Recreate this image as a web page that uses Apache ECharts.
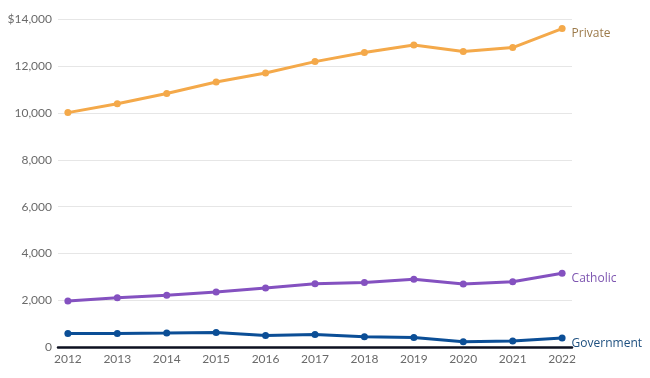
<!DOCTYPE html>
<html><head><meta charset="utf-8">
<script src="https://cdn.jsdelivr.net/npm/echarts@6/dist/echarts.min.js"></script>
<style>html,body{margin:0;padding:0;background:#fff}#c{width:650px;height:378px}</style>
</head><body><div id="c"></div>
<script>
const years = [2012, 2013, 2014, 2015, 2016, 2017, 2018, 2019, 2020, 2021, 2022];
const privateVals = [10020, 10400, 10840, 11330, 11710, 12200, 12590, 12910, 12630, 12800, 13610];
const catholicVals = [1970, 2110, 2210, 2350, 2520, 2700, 2760, 2900, 2690, 2790, 3150];
const governmentVals = [580, 580, 595, 620, 495, 535, 440, 410, 225, 255, 380];
const seriesNames = ['Private', 'Catholic', 'Government'];
const yTicks = [0, 2000, 4000, 6000, 8000, 10000, 12000, 14000];

const lineColors = ['#f4a94a', '#8451c0', '#0b4e96'];
const labelColors = ['#9c7a4a', '#7d55b0', '#1d4f7f'];
const allVals = [privateVals, catholicVals, governmentVals];

function mk(i) {
  const vals = allVals[i];
  return {
    name: seriesNames[i], type: 'line',
    data: vals.map((v, k) => {
      const d = { value: [years[k], v] };
      if (k === vals.length - 1) {
        d.label = { show: true, position: 'right', distance: 6, offset: [0, 5],
          formatter: seriesNames[i], color: labelColors[i],
          fontFamily: 'Open Sans', fontSize: 12 };
      }
      return d;
    }),
    symbol: 'circle', symbolSize: 7,
    lineStyle: { width: 3, color: lineColors[i] },
    itemStyle: { color: lineColors[i] },
    z: 3 - i,
    animation: false
  };
}

const chart = echarts.init(document.getElementById('c'));
chart.setOption({
  animation: false,
  grid: { left: 58, right: 78, top: 19.5, bottom: 31, containLabel: false },
  xAxis: {
    type: 'value', min: 2011.8, max: 2022.2,
    axisLine: { show: true, onZero: false, lineStyle: { color: '#0d1020', width: 2.5 } },
    axisTick: { show: false },
    splitLine: { show: false },
    axisLabel: { customValues: years, formatter: v => String(v), color: '#6a6a6a', fontFamily: 'Lato', fontSize: 12, margin: 6 }
  },
  yAxis: {
    type: 'value', min: 0, max: 14000, interval: 2000,
    axisLine: { show: false }, axisTick: { show: false },
    splitLine: { lineStyle: { color: '#e6e6e6', width: 1 } },
    axisLabel: {
      customValues: yTicks,
      formatter: v => (v === 14000 ? '$' : '') + v.toLocaleString('en-US'),
      color: '#6a6a6a', fontFamily: 'Lato', fontSize: 12, margin: 6
    }
  },
  series: [mk(0), mk(1), mk(2)]
});
</script></body></html>
